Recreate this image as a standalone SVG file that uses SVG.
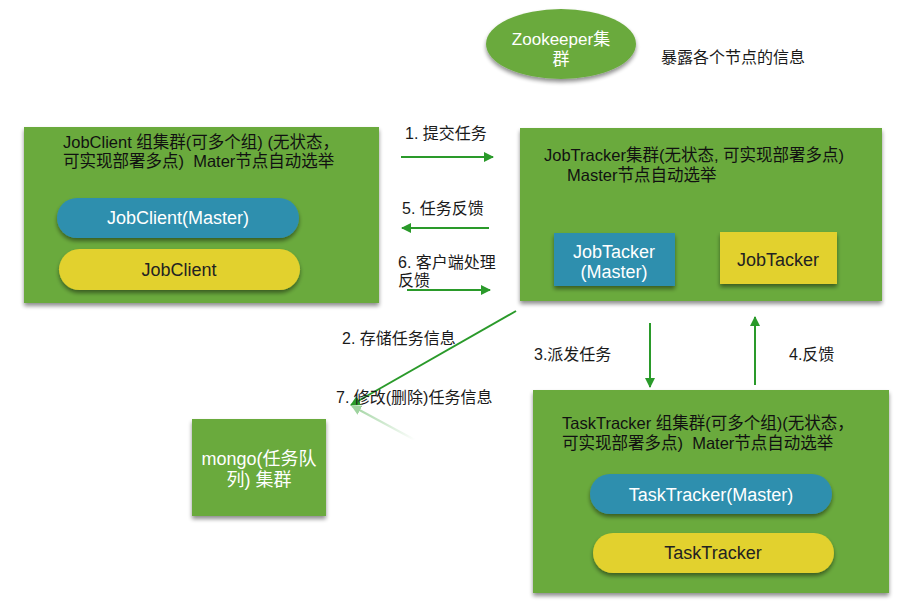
<svg xmlns="http://www.w3.org/2000/svg" width="913" height="607" viewBox="0 0 913 607">
<defs>
<filter id="sh" x="-10%" y="-10%" width="120%" height="130%">
<feGaussianBlur in="SourceAlpha" stdDeviation="2"/>
<feOffset dx="0" dy="3" result="b"/>
<feComponentTransfer><feFuncA type="linear" slope="0.45"/></feComponentTransfer>
<feMerge><feMergeNode/><feMergeNode in="SourceGraphic"/></feMerge>
</filter>
<marker id="ah" viewBox="0 0 10 10" refX="9" refY="5" markerWidth="10" markerHeight="10" markerUnits="userSpaceOnUse" orient="auto">
<path d="M0,0 L10,5 L0,10 z" fill="#2a9a2a"/>
</marker>
<marker id="ahl" viewBox="0 0 10 10" refX="9" refY="5" markerWidth="10" markerHeight="10" markerUnits="userSpaceOnUse" orient="auto">
<path d="M0,0 L10,5 L0,10 z" fill="#9fd39f"/>
</marker>
<linearGradient id="fade" x1="415" y1="440" x2="352" y2="406" gradientUnits="userSpaceOnUse">
<stop offset="0" stop-color="#ffffff"/>
<stop offset="1" stop-color="#9fd39f"/>
</linearGradient>
</defs>
<style>
text{font-family:"Liberation Sans","Noto Sans CJK SC",sans-serif;}
.grn{fill:#6aaa3e;filter:url(#sh);}
.blu{fill:#2f8fae;filter:url(#sh);}
.yel{fill:#e2d12d;filter:url(#sh);}
.t14{font-size:16.5px;fill:#111;}
.lbl{font-size:16px;fill:#1a1a1a;}
.wt{font-size:18px;fill:#fff;text-anchor:middle;}
.bt{font-size:18px;fill:#222;text-anchor:middle;}
.zk{font-size:17px;fill:#fff;text-anchor:middle;}
.con{stroke:#2a9a2a;stroke-width:2;fill:none;}
</style>
<rect width="913" height="607" fill="#fff"/>

<g id="zookeeper">
<ellipse class="grn" cx="561" cy="44" rx="75" ry="35"/>
<text class="zk" x="561" y="45">Zookeeper集</text>
<text class="zk" x="561" y="65">群</text>
</g>
<text class="lbl" x="661" y="63">暴露各个节点的信息</text>

<g id="jobclient">
<rect class="grn" x="24" y="127" width="355" height="176"/>
<text class="t14" x="63" y="148">JobClient 组集群(可多个组) (无状态，</text>
<text class="t14" x="63" y="167">可实现部署多点)&#160; Mater节点自动选举</text>
<rect class="blu" x="57" y="198" width="242" height="40" rx="20"/>
<text class="wt" x="178" y="224">JobClient(Master)</text>
<rect class="yel" x="59" y="249" width="241" height="41" rx="20.5"/>
<text class="bt" x="179" y="276">JobClient</text>
</g>

<g id="jobtracker">
<rect class="grn" x="520" y="128" width="362" height="173"/>
<text class="t14" x="544" y="161">JobTracker集群(无状态, 可实现部署多点)</text>
<text class="t14" x="567" y="181">Master节点自动选举</text>
<rect class="blu" x="554" y="233" width="121" height="53"/>
<text class="wt" x="614" y="258">JobTacker</text>
<text class="wt" x="614" y="278">(Master)</text>
<rect class="yel" x="720" y="232" width="117" height="52"/>
<text class="bt" x="778" y="266">JobTacker</text>
</g>

<g id="mongo">
<rect class="grn" x="192" y="419" width="134" height="97"/>
<text class="wt" x="259" y="465">mongo(任务队</text>
<text class="wt" x="259" y="486">列) 集群</text>
</g>

<g id="tasktracker">
<rect class="grn" x="533" y="390" width="356" height="203"/>
<text class="t14" x="562" y="429">TaskTracker 组集群(可多个组)(无状态，</text>
<text class="t14" x="562" y="449">可实现部署多点)&#160; Mater节点自动选举</text>
<rect class="blu" x="590" y="474" width="242" height="40" rx="20"/>
<text class="wt" x="711" y="501">TaskTracker(Master)</text>
<rect class="yel" x="593" y="533" width="241" height="40" rx="20"/>
<text class="bt" x="713" y="559">TaskTracker</text>
</g>

<g id="connectors">
<line class="con" x1="401" y1="157" x2="493" y2="157" marker-end="url(#ah)"/>
<line class="con" x1="489" y1="228" x2="402" y2="228" marker-end="url(#ah)"/>
<line class="con" x1="407" y1="290" x2="490" y2="290" marker-end="url(#ah)"/>
<line class="con" x1="516" y1="311" x2="351" y2="405" marker-end="url(#ah)"/>
<line x1="415" y1="440" x2="352" y2="406" stroke="url(#fade)" stroke-width="2" marker-end="url(#ahl)"/>
<line class="con" x1="650" y1="323" x2="650" y2="387" marker-end="url(#ah)"/>
<line class="con" x1="755" y1="385" x2="755" y2="317" marker-end="url(#ah)"/>
</g>

<g id="labels">
<text class="lbl" x="405" y="139">1. 提交任务</text>
<text class="lbl" x="402" y="214">5. 任务反馈</text>
<text class="lbl" x="398" y="268">6. 客户端处理</text>
<text class="lbl" x="398" y="286">反馈</text>
<text class="lbl" x="342" y="344">2. 存储任务信息</text>
<text class="lbl" x="336" y="403">7. 修改(删除)任务信息</text>
<text class="lbl" x="534" y="360">3.派发任务</text>
<text class="lbl" x="789" y="360">4.反馈</text>
</g>
</svg>
